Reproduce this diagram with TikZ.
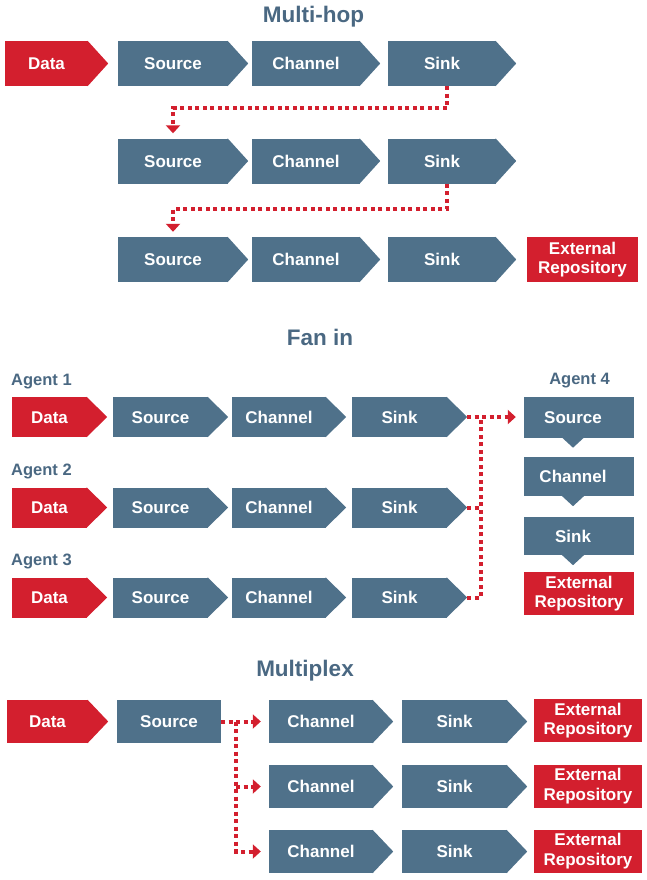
\documentclass[tikz,border=0pt]{standalone}
\usepackage{fontspec}
\setmainfont{Liberation Sans}
\usetikzlibrary{arrows.meta}
\definecolor{slate}{RGB}{79,113,138}
\definecolor{brick}{RGB}{211,31,46}
\definecolor{ttl}{RGB}{74,104,130}
\tikzset{
  blkbase/.style={fill=slate, text=white, inner sep=0pt, align=center,
    font=\fontsize{17}{19.5}\selectfont\bfseries},
  blk/.style={blkbase, text height=12.3pt, text depth=0pt},
  extblk/.style={blkbase, fill=brick},
  ttlfont/.style={text=ttl, inner sep=0pt, anchor=base,
    font=\fontsize{22.5}{26}\selectfont\bfseries},
  agent/.style={text=ttl, inner sep=0pt,
    font=\fontsize{16.5}{19}\selectfont\bfseries},
  dotline/.style={draw=brick, line width=4pt, dash pattern=on 4pt off 3.5pt},
  tipar/.style={-{Triangle[width=14pt,length=8pt]}},
}
% #1 name, #2 x, #3 y, #4 body width, #5 height, #6 colour, #7 text
\newcommand\chev[7]{%
  \node[blk, fill=#6, minimum width=#4pt, minimum height=#5pt] (#1) at (#2,#3) {#7};
  \fill[#6] ([xshift=-0.6pt]#1.north east) -- ([xshift=20pt]#1.east) -- ([xshift=-0.6pt]#1.south east) -- cycle;
  \coordinate (#1tip) at ([xshift=20pt]#1.east);
}
% downward pointer under a box: #1 name, #2 colour
\newcommand\downptr[2]{%
  \fill[#2] ([xshift=-17.5pt,yshift=0.6pt]#1.south) -- ([xshift=-6pt,yshift=-10pt]#1.south) -- ([xshift=5.5pt,yshift=0.6pt]#1.south) -- cycle;
}
\begin{document}
\begin{tikzpicture}[x=1pt,y=-1pt]
\useasboundingbox (0,0) rectangle (647,880);

% ---------------- Multi-hop ----------------
\node[ttlfont] (t1) at (313.5,23) {Multi-hop};

\chev{d1}{46.5}{63.5}{83}{45}{brick}{Data}
\chev{s1}{173}{63.5}{110}{45}{slate}{Source}
\chev{c1}{306}{63.5}{108}{45}{slate}{Channel}
\chev{k1}{442}{63.5}{108}{45}{slate}{Sink}

\chev{s2}{173}{161}{110}{45}{slate}{Source}
\chev{c2}{306}{161}{108}{45}{slate}{Channel}
\chev{k2}{442}{161}{108}{45}{slate}{Sink}

\chev{s3}{173}{259.5}{110}{45}{slate}{Source}
\chev{c3}{306}{259.5}{108}{45}{slate}{Channel}
\chev{k3}{442}{259.5}{108}{45}{slate}{Sink}
\node[extblk, minimum width=111pt, minimum height=45pt] (e3) at (582.5,259.5) {External\\Repository};

\draw[dotline, tipar, shorten >=5pt] ([xshift=5pt]k1.south) -- ++(0,22) -| (s2.north);
\draw[dotline, tipar, shorten >=5pt] ([xshift=5pt]k2.south) -- ++(0,25) -| (s3.north);

% ---------------- Fan in ----------------
\node[ttlfont] (t2) at (320,345) {Fan in};

\node[agent, anchor=base west] (ag1) at (11,385) {Agent 1};
\node[agent, anchor=base west] (ag2) at (11,475) {Agent 2};
\node[agent, anchor=base west] (ag3) at (11,565) {Agent 3};
\node[agent, anchor=base] (ag4) at (579.5,384) {Agent 4};

\chev{fd1}{49.5}{417}{75}{40}{brick}{Data}
\chev{fs1}{160.5}{417}{95}{40}{slate}{Source}
\chev{fc1}{279}{417}{94}{40}{slate}{Channel}
\chev{fk1}{399.5}{417}{95}{40}{slate}{Sink}

\chev{fd2}{49.5}{507.5}{75}{40}{brick}{Data}
\chev{fs2}{160.5}{507.5}{95}{40}{slate}{Source}
\chev{fc2}{279}{507.5}{94}{40}{slate}{Channel}
\chev{fk2}{399.5}{507.5}{95}{40}{slate}{Sink}

\chev{fd3}{49.5}{597.5}{75}{40}{brick}{Data}
\chev{fs3}{160.5}{597.5}{95}{40}{slate}{Source}
\chev{fc3}{279}{597.5}{94}{40}{slate}{Channel}
\chev{fk3}{399.5}{597.5}{95}{40}{slate}{Sink}

\node[blk, minimum width=110pt, minimum height=41pt] (a4s) at (579,417) {};
\downptr{a4s}{slate}
\node[blk, fill=none] (a4st) at (573,417) {Source};
\node[blk, minimum width=110pt, minimum height=39pt] (a4c) at (579,476.5) {};
\downptr{a4c}{slate}
\node[blk, fill=none] (a4ct) at (573,476.5) {Channel};
\node[blk, minimum width=110pt, minimum height=38pt] (a4k) at (579,536) {};
\downptr{a4k}{slate}
\node[blk, fill=none] (a4kt) at (573,536) {Sink};
\node[extblk, minimum width=110pt, minimum height=43pt] (a4e) at (579,593.5) {External\\Repository};

\coordinate (fj) at (481,417);
\draw[dotline, tipar, shorten >=8pt] (fk1tip) -- (a4s.west);
\draw[dotline] (fk3tip) -| (fj);
\draw[dotline] (fk2tip) -- (fk2tip -| fj);

% ---------------- Multiplex ----------------
\node[ttlfont] (t3) at (305,676) {Multiplex};

\chev{md}{47.5}{721.5}{81}{43}{brick}{Data}
\node[blk, minimum width=104pt, minimum height=43pt] (ms) at (169,721.5) {Source};

\chev{mc1}{321}{721.5}{104}{43}{slate}{Channel}
\chev{mk1}{454.5}{721.5}{105}{43}{slate}{Sink}
\node[extblk, minimum width=108pt, minimum height=43pt] (me1) at (588,720.5) {External\\Repository};

\chev{mc2}{321}{786.5}{104}{43}{slate}{Channel}
\chev{mk2}{454.5}{786.5}{105}{43}{slate}{Sink}
\node[extblk, minimum width=108pt, minimum height=43pt] (me2) at (588,786) {External\\Repository};

\chev{mc3}{321}{851.5}{104}{43}{slate}{Channel}
\chev{mk3}{454.5}{851.5}{105}{43}{slate}{Sink}
\node[extblk, minimum width=108pt, minimum height=43pt] (me3) at (588,851) {External\\Repository};

\coordinate (mj) at (236,721.5);
\draw[dotline, tipar, shorten >=8pt] (ms.east) -- (mc1.west);
\draw[dotline, tipar, shorten >=8pt] (mj) |- (mc3.west);
\draw[dotline, tipar, shorten >=8pt] (mc2.west -| mj) -- (mc2.west);
\end{tikzpicture}
\end{document}
